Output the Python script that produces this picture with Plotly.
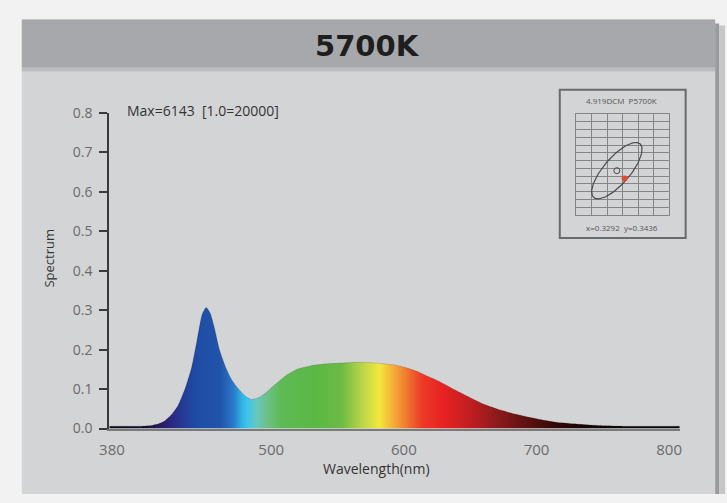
import plotly.graph_objects as go
import numpy as np

# ---------------- data ----------------
wavelength = [378, 390, 400, 410, 415, 420, 425, 430, 435, 440, 444, 448, 451, 454, 457,
              461, 466, 470, 474, 478, 481, 485, 491, 496, 501, 506, 511, 516, 520, 531,
              542, 553, 565, 575, 585, 595, 602, 610, 617, 624, 631, 638, 645, 652, 660,
              670, 680, 690, 703, 715, 728, 740, 753, 765, 778, 790, 800, 808]
spectrum = [0.006, 0.006, 0.006, 0.008, 0.012, 0.020, 0.036, 0.060, 0.100, 0.155, 0.222, 0.290, 0.307, 0.293, 0.258,
            0.200, 0.153, 0.125, 0.106, 0.091, 0.081, 0.074, 0.079, 0.091, 0.106, 0.120, 0.134, 0.144, 0.151, 0.160,
            0.164, 0.166, 0.168, 0.167, 0.164, 0.160, 0.154, 0.145, 0.134, 0.124, 0.112, 0.099, 0.087, 0.075, 0.062,
            0.050, 0.040, 0.032, 0.023, 0.016, 0.012, 0.009, 0.007, 0.006, 0.006, 0.006, 0.006, 0.006]

# wavelength -> colour used for the gradient fill
grad_wl = [378, 405, 415, 425, 435, 445, 460, 470, 476, 480, 487, 495, 505, 530, 550, 565,
           578, 588, 598, 610, 625, 645, 665, 690, 710, 730, 760, 808]
grad_col = ["#0a0a14", "#141030", "#251a60", "#2a2a85", "#22409a", "#1f4ea6", "#2153aa", "#2a78c8",
            "#30b0e4", "#3cc4ee", "#66c8c0", "#6cc088", "#5ebb55", "#5ab845", "#6cbb45", "#b8d448",
            "#f2e83c", "#f5b038", "#f07a30", "#ec3a28", "#e82222", "#c21e22", "#8e1a1c", "#5a1010",
            "#300808", "#150404", "#0a0a0a", "#080808"]

y_ticks = [0.0, 0.1, 0.2, 0.3, 0.4, 0.5, 0.6, 0.7, 0.8]
x_ticks = [380, 500, 600, 700, 800]

title_text = "5700K"
max_text = "Max=6143  [1.0=20000]"
y_title = "Spectrum"
x_title = "Wavelength(nm)"

# chromaticity inset
inset_title = "4.919DCM  P5700K"
inset_label = "x=0.3292  y=0.3436"
cie_x, cie_y = 0.3292, 0.3436
ell_cx, ell_cy = 0.3267, 0.3456
inset_xrange = [0.3136, 0.3436]
inset_yrange = [0.3342, 0.3602]

# ---------------- layout helpers ----------------
W, H = 727, 503
def px(x):
    return x / W
def py(y):
    return 1 - y / H

x0_px, x1_px = 101, 681
y_top_px, y_bot_px = 107, 435

fig = go.Figure()

lo, hi = grad_wl[0], grad_wl[-1]
cscale = [[(w - lo) / (hi - lo), c] for w, c in zip(grad_wl, grad_col)]

fig.add_trace(go.Scatter(
    x=wavelength, y=spectrum, mode="lines",
    line=dict(width=0.5, color="rgba(20,20,20,0.3)", shape="spline", smoothing=0.6),
    fill="tozeroy",
    fillgradient=dict(type="horizontal", colorscale=cscale, start=lo, stop=hi),
    hoverinfo="skip", showlegend=False,
))

# inset: ellipse in pixel space then mapped to data
gx0, gx1, gy0, gy1 = 576, 670, 108, 213
def to_data(xp, yp):
    xd = inset_xrange[0] + (xp - gx0) / (gx1 - gx0) * (inset_xrange[1] - inset_xrange[0])
    yd = inset_yrange[0] + (gy1 - yp) / (gy1 - gy0) * (inset_yrange[1] - inset_yrange[0])
    return xd, yd
def to_px(xd, yd):
    xp = gx0 + (xd - inset_xrange[0]) / (inset_xrange[1] - inset_xrange[0]) * (gx1 - gx0)
    yp = gy1 - (yd - inset_yrange[0]) / (inset_yrange[1] - inset_yrange[0]) * (gy1 - gy0)
    return xp, yp

cxp, cyp = to_px(ell_cx, ell_cy)
a_px, b_px, ang = 36.5, 13.5, np.deg2rad(50)
t = np.linspace(0, 2 * np.pi, 120)
ex = cxp + a_px * np.cos(t) * np.cos(ang) - b_px * np.sin(t) * np.sin(ang)
ey = cyp - (a_px * np.cos(t) * np.sin(ang) + b_px * np.sin(t) * np.cos(ang))
exd, eyd = to_data(ex, ey)
fig.add_trace(go.Scatter(x=exd, y=eyd, mode="lines", line=dict(color="#4a4a4a", width=1.2),
                         xaxis="x2", yaxis="y2", hoverinfo="skip", showlegend=False))
fig.add_trace(go.Scatter(x=[ell_cx], y=[ell_cy], mode="markers",
                         marker=dict(size=6, color="rgba(0,0,0,0)", line=dict(color="#4a4a4a", width=1)),
                         xaxis="x2", yaxis="y2", hoverinfo="skip", showlegend=False))
fig.add_trace(go.Scatter(x=[cie_x], y=[cie_y], mode="markers",
                         marker=dict(size=6, color="#e04a30"),
                         xaxis="x2", yaxis="y2", hoverinfo="skip", showlegend=False))

shapes = [
    dict(type="rect", xref="paper", yref="paper", x0=px(12), x1=px(717), y0=py(503), y1=py(10),
         fillcolor="#d3d4d6", line=dict(width=0), layer="below"),
    dict(type="rect", xref="paper", yref="paper", x0=px(12), x1=px(717), y0=py(60), y1=py(10),
         fillcolor="#a7a8ab", line=dict(width=0), layer="below"),
    dict(type="rect", xref="paper", yref="paper", x0=px(12), x1=px(717), y0=py(64), y1=py(60),
         fillcolor="#bcbdc0", line=dict(width=0), layer="below"),
    dict(type="rect", xref="paper", yref="paper", x0=px(717), x1=px(721), y0=py(503), y1=py(14),
         fillcolor="#9a9a9c", line=dict(width=0), layer="below"),
    dict(type="rect", xref="paper", yref="paper", x0=px(721), x1=px(727), y0=py(503), y1=py(16),
         fillcolor="#c6c6c8", line=dict(width=0), layer="below"),
    dict(type="rect", xref="paper", yref="paper", x0=px(559), x1=px(687), y0=py(237), y1=py(83),
         fillcolor="rgba(0,0,0,0)", line=dict(color="#6a6a6a", width=2), layer="below"),
]

annotations = [
    dict(text=f"<b>{title_text}</b>", x=px(364), y=py(37), xref="paper", yref="paper",
         showarrow=False, font=dict(family="DejaVu Sans", size=29, color="#1e1e1e"),
         xanchor="center", yanchor="middle"),
    dict(text=max_text, x=px(117), y=py(104), xref="paper", yref="paper", showarrow=False,
         font=dict(family="Open Sans", size=14, color="#333333"), xanchor="left", yanchor="middle"),
    dict(text=y_title, x=px(40), y=py(258), xref="paper", yref="paper", showarrow=False, textangle=-90,
         font=dict(family="Open Sans", size=13, color="#333333"), xanchor="center", yanchor="middle"),
    dict(text=x_title, x=px(373), y=py(477), xref="paper", yref="paper", showarrow=False,
         font=dict(family="Open Sans", size=14, color="#333333"), xanchor="center", yanchor="middle"),
    dict(text=inset_title, x=px(622), y=py(94), xref="paper", yref="paper", showarrow=False,
         font=dict(family="Open Sans", size=8, color="#555555"), xanchor="center", yanchor="middle"),
    dict(text=inset_label, x=px(622), y=py(226), xref="paper", yref="paper", showarrow=False,
         font=dict(family="Open Sans", size=8, color="#555555"), xanchor="center", yanchor="middle"),
]

fig.update_layout(
    width=W, height=H, margin=dict(l=0, r=0, t=0, b=0),
    paper_bgcolor="#f2f2f2", plot_bgcolor="rgba(0,0,0,0)",
    shapes=shapes, annotations=annotations, showlegend=False,
    xaxis=dict(domain=[px(x0_px), px(x1_px)], range=[378, 808], showgrid=False, zeroline=False,
               showline=True, linecolor="#7a7a7a", linewidth=2, ticks="",
               tickvals=x_ticks, ticktext=[str(v) for v in x_ticks],
               tickfont=dict(family="Open Sans", size=15, color="#6a6a6a"), ticklabelstandoff=6),
    yaxis=dict(domain=[py(y_bot_px), py(y_top_px)], range=[0, 0.8], showgrid=False, zeroline=False,
               showline=True, linecolor="#3a3a3a", linewidth=2, ticks="outside", ticklen=8,
               tickwidth=2, tickcolor="#3a3a3a",
               tickvals=y_ticks, ticktext=[f"{v:.1f}" for v in y_ticks],
               tickfont=dict(family="Open Sans", size=14, color="#6a6a6a"), ticklabelstandoff=4),
    xaxis2=dict(domain=[px(gx0), px(gx1)], range=inset_xrange, anchor="y2",
                showgrid=True, gridcolor="#858585", gridwidth=1, tick0=inset_xrange[0], dtick=0.005,
                showticklabels=False, ticks="", zeroline=False, showline=True, mirror=True,
                linecolor="#858585", linewidth=1),
    yaxis2=dict(domain=[py(gy1), py(gy0)], range=inset_yrange, anchor="x2",
                showgrid=True, gridcolor="#858585", gridwidth=1, tick0=inset_yrange[0], dtick=0.002,
                showticklabels=False, ticks="", zeroline=False, showline=True, mirror=True,
                linecolor="#858585", linewidth=1),
)

fig.write_html("out.html",
               post_script="document.body.style.margin='0';document.body.style.overflow='hidden';")
